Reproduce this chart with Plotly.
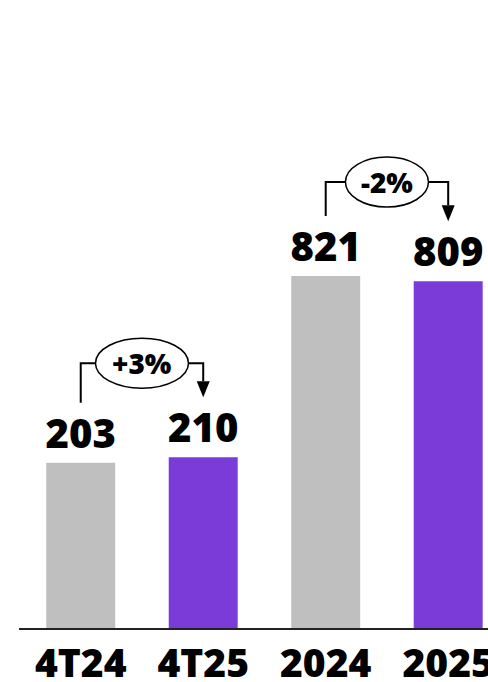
import plotly.graph_objects as go

# Data
categories = ["4T24", "4T25", "2024", "2025"]
quarter_values = [203, 210]      # 4T24, 4T25
year_values = [821, 809]         # 2024, 2025
changes = ["+3%", "-2%"]

# Canvas and plot geometry
W, H = 488, 682
M_L, M_B = 19, 54
PLOT_W = W - M_L
PLOT_H = H - M_B

X_RANGE = [-0.504, 3.325]
Q_MAX = 772      # quarterly axis top
A_MAX = 1465     # annual axis top
BAR_W = 0.563

GRAY = "#BFBFBF"
PURPLE = "#7B3BD8"
FONT = "Open Sans"
HEAVY = 800

PX_X = (X_RANGE[1] - X_RANGE[0]) / PLOT_W   # data units per pixel (x)

fig = go.Figure()

label_font = dict(family=FONT, size=40, color="black", weight=HEAVY)

fig.add_trace(go.Bar(
    x=[0, 1], y=quarter_values, width=BAR_W,
    marker=dict(color=[GRAY, PURPLE], line=dict(width=0)),
    text=[str(v) for v in quarter_values], textposition="outside",
    textfont=label_font, constraintext="none", cliponaxis=False,
    yaxis="y2", showlegend=False, hoverinfo="skip",
))
fig.add_trace(go.Bar(
    x=[2, 3], y=year_values, width=BAR_W,
    marker=dict(color=[GRAY, PURPLE], line=dict(width=0)),
    text=[str(v) for v in year_values], textposition="outside",
    textfont=label_font, constraintext="none", cliponaxis=False,
    yaxis="y", showlegend=False, hoverinfo="skip",
))

shapes = []
annotations = []


def change_bracket(xa, xb, va, vb, yref, ymax, label, rx, ry=25):
    uy = ymax / PLOT_H
    y_start = va + 60 * uy
    y_tip = vb + 60 * uy
    level = max(va, vb) + 94 * uy
    xm = (xa + xb) / 2
    line = dict(color="black", width=2)
    # left leg up to the ellipse
    shapes.append(dict(
        type="path", xref="x", yref=yref, line=line,
        path=f"M {xa},{y_start} L {xa},{level} L {xm - rx * PX_X},{level}",
    ))
    # right leg from the ellipse down to the arrow
    head_h = 16 * uy
    shapes.append(dict(
        type="path", xref="x", yref=yref, line=line,
        path=f"M {xm + rx * PX_X},{level} L {xb},{level} L {xb},{y_tip + head_h}",
    ))
    # arrowhead
    hw = 6.5 * PX_X
    shapes.append(dict(
        type="path", xref="x", yref=yref, line=dict(width=0),
        fillcolor="black",
        path=f"M {xb - hw},{y_tip + head_h} L {xb + hw},{y_tip + head_h} L {xb},{y_tip} Z",
    ))
    # ellipse badge
    shapes.append(dict(
        type="circle", xref="x", yref=yref,
        x0=xm - rx * PX_X, x1=xm + rx * PX_X,
        y0=level - ry * uy, y1=level + ry * uy,
        line=dict(color="black", width=1.5), fillcolor="white",
    ))
    annotations.append(dict(
        x=xm, y=level, xref="x", yref=yref, text=label, showarrow=False,
        font=dict(family=FONT, size=28, color="black", weight=HEAVY),
        xanchor="center", yanchor="middle",
    ))


change_bracket(0, 1, quarter_values[0], quarter_values[1], "y2", Q_MAX, changes[0], 46.5)
change_bracket(2, 3, year_values[0], year_values[1], "y", A_MAX, changes[1], 41.5)

fig.update_layout(
    width=W, height=H,
    margin=dict(l=M_L, r=0, t=0, b=M_B, pad=0, autoexpand=False),
    paper_bgcolor="white", plot_bgcolor="white",
    barmode="overlay",
    shapes=shapes, annotations=annotations,
    xaxis=dict(
        range=X_RANGE, tickmode="array", tickvals=[0, 1, 2, 3], ticktext=categories,
        showline=True, linecolor="#222222", linewidth=2, ticks="",
        showgrid=False, zeroline=False, automargin=False,
        ticklabeloverflow="allow",
        tickfont=dict(family=FONT, size=39, color="black", weight=HEAVY),
        fixedrange=True,
    ),
    yaxis=dict(range=[0, A_MAX], visible=False, showgrid=False, zeroline=False,
               automargin=False),
    yaxis2=dict(range=[0, Q_MAX], visible=False, showgrid=False, zeroline=False,
                overlaying="y", side="left", automargin=False),
)

fig.write_html("out.html", config={"displayModeBar": False})
